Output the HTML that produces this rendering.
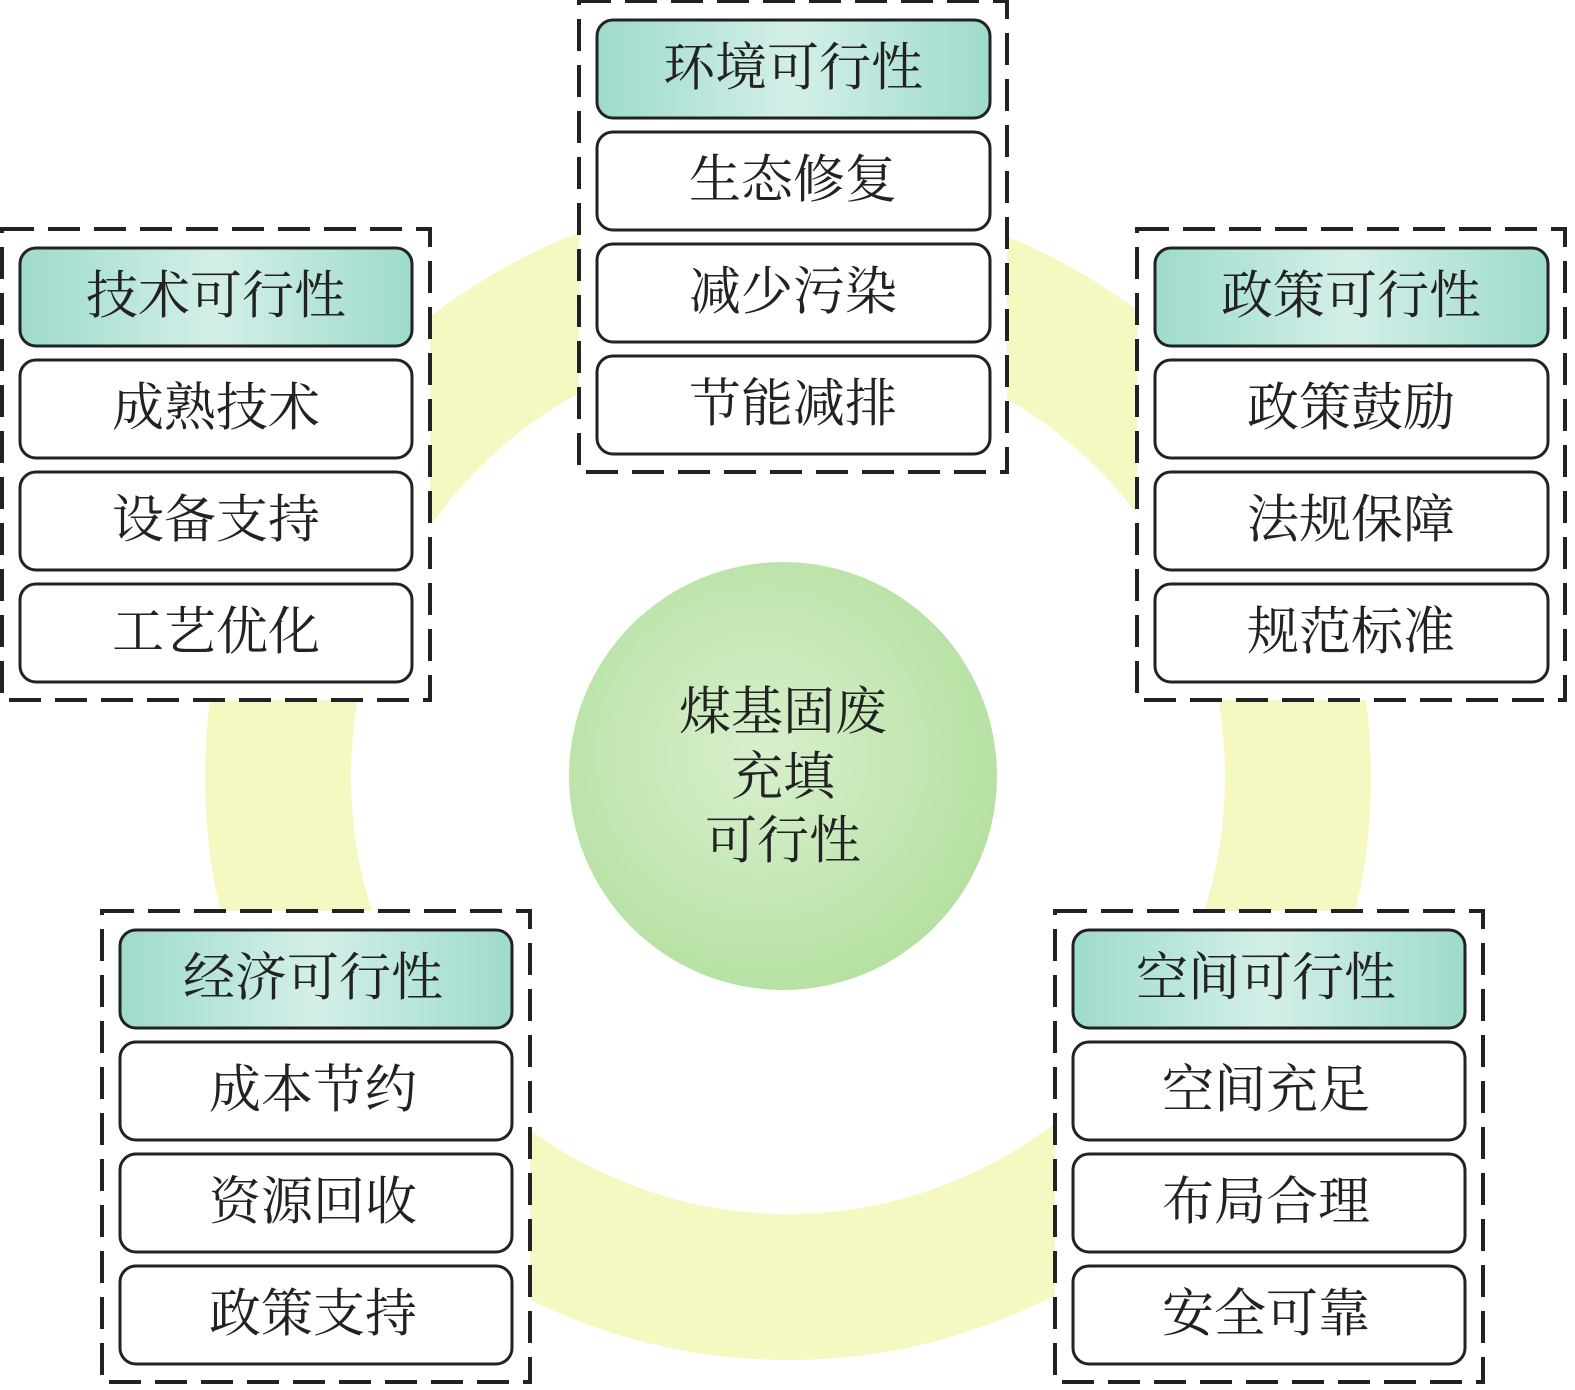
<!DOCTYPE html>
<html><head><meta charset="utf-8"><style>html,body{margin:0;padding:0;background:#fff}svg{display:block}</style></head>
<body>
<svg width="1575" height="1390" viewBox="0 0 1575 1390" xmlns="http://www.w3.org/2000/svg" font-family="'Liberation Serif','Noto Serif CJK SC',serif">
<defs>
<linearGradient id="hg" x1="0" x2="1" y1="0" y2="0">
<stop offset="0" stop-color="#9edbcd"/><stop offset="0.5" stop-color="#d3efe8"/><stop offset="1" stop-color="#9edbcd"/>
</linearGradient>
<radialGradient id="cg" cx="0.45" cy="0.45" r="0.6">
<stop offset="0" stop-color="#d8f0cd"/><stop offset="1" stop-color="#b4e0a0"/>
</radialGradient>
</defs>
<circle cx="788" cy="777" r="510" fill="none" stroke="#f5f8c0" stroke-width="146"/>
<circle cx="783" cy="776" r="214" fill="url(#cg)"/>
<g font-size="52" fill="#222" text-anchor="middle" dominant-baseline="central">
<text x="783" y="713">煤基固废</text>
<text x="783" y="778">充填</text>
<text x="783" y="842">可行性</text>
</g>
<g id="groups" font-size="52" fill="#222" text-anchor="middle">
</g>
<!-- top -->
<g>
<rect x="579" y="1" width="428" height="471" fill="#fff" stroke="#222" stroke-width="4" stroke-dasharray="32,14"/>
<rect x="597" y="20" width="393" height="98" rx="16" fill="url(#hg)" stroke="#222" stroke-width="3"/>
<rect x="597" y="132" width="393" height="98" rx="16" fill="#fff" stroke="#222" stroke-width="3"/>
<rect x="597" y="244" width="393" height="98" rx="16" fill="#fff" stroke="#222" stroke-width="3"/>
<rect x="597" y="356" width="393" height="98" rx="16" fill="#fff" stroke="#222" stroke-width="3"/>
<g font-size="52" fill="#222" text-anchor="middle" dominant-baseline="central">
<text x="793" y="69">环境可行性</text><text x="793" y="181">生态修复</text><text x="793" y="293">减少污染</text><text x="793" y="405">节能减排</text>
</g>
</g>
<!-- left -->
<g>
<rect x="2" y="229" width="428" height="471" fill="#fff" stroke="#222" stroke-width="4" stroke-dasharray="32,14"/>
<rect x="20" y="248" width="392" height="98" rx="16" fill="url(#hg)" stroke="#222" stroke-width="3"/>
<rect x="20" y="360" width="392" height="98" rx="16" fill="#fff" stroke="#222" stroke-width="3"/>
<rect x="20" y="472" width="392" height="98" rx="16" fill="#fff" stroke="#222" stroke-width="3"/>
<rect x="20" y="584" width="392" height="98" rx="16" fill="#fff" stroke="#222" stroke-width="3"/>
<g font-size="52" fill="#222" text-anchor="middle" dominant-baseline="central">
<text x="216" y="297">技术可行性</text><text x="216" y="409">成熟技术</text><text x="216" y="521">设备支持</text><text x="216" y="633">工艺优化</text>
</g>
</g>
<!-- right -->
<g>
<rect x="1137" y="229" width="428" height="471" fill="#fff" stroke="#222" stroke-width="4" stroke-dasharray="32,14"/>
<rect x="1155" y="248" width="393" height="98" rx="16" fill="url(#hg)" stroke="#222" stroke-width="3"/>
<rect x="1155" y="360" width="393" height="98" rx="16" fill="#fff" stroke="#222" stroke-width="3"/>
<rect x="1155" y="472" width="393" height="98" rx="16" fill="#fff" stroke="#222" stroke-width="3"/>
<rect x="1155" y="584" width="393" height="98" rx="16" fill="#fff" stroke="#222" stroke-width="3"/>
<g font-size="52" fill="#222" text-anchor="middle" dominant-baseline="central">
<text x="1351" y="297">政策可行性</text><text x="1351" y="409">政策鼓励</text><text x="1351" y="521">法规保障</text><text x="1351" y="633">规范标准</text>
</g>
</g>
<!-- bottom left -->
<g>
<rect x="102" y="911" width="428" height="471" fill="#fff" stroke="#222" stroke-width="4" stroke-dasharray="32,14"/>
<rect x="120" y="930" width="392" height="98" rx="16" fill="url(#hg)" stroke="#222" stroke-width="3"/>
<rect x="120" y="1042" width="392" height="98" rx="16" fill="#fff" stroke="#222" stroke-width="3"/>
<rect x="120" y="1154" width="392" height="98" rx="16" fill="#fff" stroke="#222" stroke-width="3"/>
<rect x="120" y="1266" width="392" height="98" rx="16" fill="#fff" stroke="#222" stroke-width="3"/>
<g font-size="52" fill="#222" text-anchor="middle" dominant-baseline="central">
<text x="313" y="979">经济可行性</text><text x="313" y="1091">成本节约</text><text x="313" y="1203">资源回收</text><text x="313" y="1315">政策支持</text>
</g>
</g>
<!-- bottom right -->
<g>
<rect x="1055" y="911" width="428" height="471" fill="#fff" stroke="#222" stroke-width="4" stroke-dasharray="32,14"/>
<rect x="1073" y="930" width="392" height="98" rx="16" fill="url(#hg)" stroke="#222" stroke-width="3"/>
<rect x="1073" y="1042" width="392" height="98" rx="16" fill="#fff" stroke="#222" stroke-width="3"/>
<rect x="1073" y="1154" width="392" height="98" rx="16" fill="#fff" stroke="#222" stroke-width="3"/>
<rect x="1073" y="1266" width="392" height="98" rx="16" fill="#fff" stroke="#222" stroke-width="3"/>
<g font-size="52" fill="#222" text-anchor="middle" dominant-baseline="central">
<text x="1266" y="979">空间可行性</text><text x="1266" y="1091">空间充足</text><text x="1266" y="1203">布局合理</text><text x="1266" y="1315">安全可靠</text>
</g>
</g>
</svg>
</body></html>
